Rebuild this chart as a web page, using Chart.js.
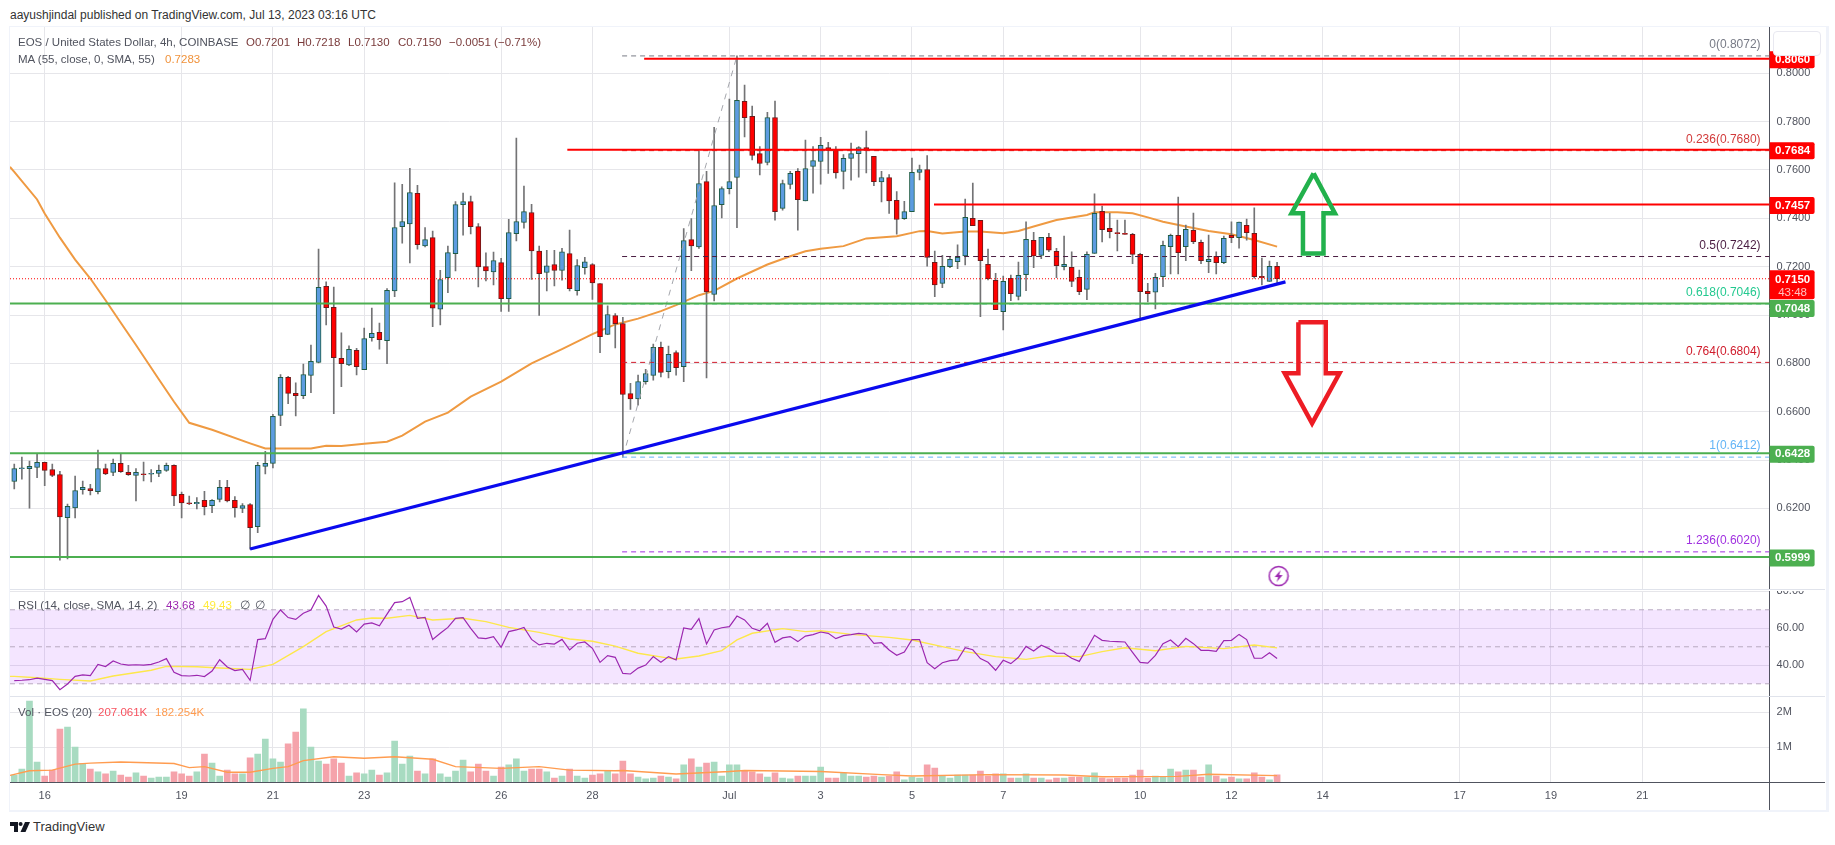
<!DOCTYPE html>
<html>
<head>
<meta charset="utf-8">
<title>EOS / United States Dollar</title>
<script src="https://cdn.jsdelivr.net/npm/chart.js@4/dist/chart.umd.min.js"></script>
<style>
    html, body { margin: 0; padding: 0; background: #fff; }
    body { width: 1835px; height: 845px; position: relative; overflow: hidden; font-family: "Liberation Sans", sans-serif; font-size: 11.5px; color: #50535e; }
    canvas { position: absolute; left: 10px; }
    .t { position: absolute; white-space: pre; line-height: 16px; z-index: 5; }
    .rule { position: absolute; z-index: 4; }
    #frame { position: absolute; left: 9px; top: 26px; width: 1816px; height: 783px; border: solid #f0f3fa; border-width: 1px 3px 2px 1px; }
    #corner { position: absolute; left: 1773px; top: 31px; width: 46px; height: 23px; background: #fff; border: 1px solid #e8e8f0; border-radius: 4px; z-index: 6; }
</style>
</head>
<body>
<div id="frame"></div>
<div class="t" style="left:10px;top:7px;color:#333;font-size:12px">aayushjindal published on TradingView.com, Jul 13, 2023 03:16 UTC</div>

<canvas id="priceChart" width="1815" height="562" style="top:27px"></canvas>
<canvas id="rsiChart" width="1815" height="105" style="top:591px"></canvas>
<canvas id="volChart" width="1815" height="113" style="top:697px"></canvas>

<div class="rule" style="left:10px;top:589px;width:1815px;height:1px;background:#e0e3eb"></div>
<div class="rule" style="left:10px;top:696px;width:1815px;height:1px;background:#e0e3eb"></div>
<div class="rule" style="left:1769px;top:782px;width:56px;height:1px;background:#50535e"></div>
<div class="rule" style="left:1769px;top:782px;width:1px;height:28px;background:#50535e"></div>
<div id="corner"></div>

<div class="t" style="left:18px;top:34px">EOS / United States Dollar, 4h, COINBASE</div>
<div class="t" style="left:246px;top:34px;color:#7a3b3b">O0.7201</div>
<div class="t" style="left:297px;top:34px;color:#7a3b3b">H0.7218</div>
<div class="t" style="left:348px;top:34px;color:#7a3b3b">L0.7130</div>
<div class="t" style="left:398px;top:34px;color:#7a3b3b">C0.7150</div>
<div class="t" style="left:449px;top:34px;color:#7a3b3b">−0.0051 (−0.71%)</div>
<div class="t" style="left:18px;top:51px">MA (55, close, 0, SMA, 55)</div>
<div class="t" style="left:165px;top:51px;color:#f0923b">0.7283</div>
<div class="t" style="left:18px;top:597px">RSI (14, close, SMA, 14, 2)</div>
<div class="t" style="left:166px;top:597px;color:#9c27b0">43.68</div>
<div class="t" style="left:203px;top:597px;color:#ffeb3b">49.43</div>
<div class="t" style="left:240px;top:597px">∅</div>
<div class="t" style="left:255px;top:597px">∅</div>
<div class="t" style="left:18px;top:704px">Vol · EOS (20)</div>
<div class="t" style="left:98px;top:704px;color:#f7525f">207.061K</div>
<div class="t" style="left:155px;top:704px;color:#ff9c50">182.254K</div>

<svg style="position:absolute;left:10px;top:822px" width="20" height="10" viewBox="0 0 20 10">
    <path d="M0 0H8V10H4V4H0Z" fill="#131722"/>
    <circle cx="10.6" cy="2" r="2" fill="#131722"/>
    <path d="M15 0H20L15.5 10H10.5Z" fill="#131722"/>
</svg>
<div class="t" style="left:33px;top:819px;color:#333;font-size:13px">TradingView</div>

<script>
// 4h candles, index 0 is the first bar on the left of the picture
const opens = [
    .6311,.6364,.6364,.6369,.6390,.6361,.6340,.6162,.6202,.6277,
    .6282,.6269,.6365,.6349,.6386,.6349,.6336,.6341,.6341,.6345,
    .6357,.6378,.6258,.6220,.6219,.6233,.6211,.6237,.6287,.6233,
    .6200,.6216,.6124,.6374,.6386,.6585,.6742,.6676,.6666,.6750,
    .6804,.7119,.7032,.6821,.6794,.6854,.6774,.6906,.6928,.6894,
    .7100,.7365,.7377,.7503,.7286,.7320,.7024,.7155,.7254,.7457,
    .7469,.7366,.7200,.7178,.7217,.7068,.7337,.7383,.7424,.7265,
    .7176,.7209,.7184,.7254,.7101,.7196,.7209,.7130,.6920,.6998,
    .6965,.6675,.6653,.6724,.6750,.6866,.6766,.6845,.6786,.7312,
    .7282,.7552,.7085,.7457,.7523,.7569,.7884,.7822,.7668,.7631,
    .7817,.7441,.7540,.7594,.7472,.7615,.7635,.7693,.7685,.7594,
    .7648,.7668,.7693,.7656,.7551,.7569,.7474,.7399,.7428,.7590,
    .7602,.7218,.7131,.7200,.7221,.7244,.7400,.7392,.7210,.7143,
    .7014,.7152,.7077,.7167,.7309,.7247,.7321,.7263,.7200,.7197,
    .7156,.7106,.7255,.7429,.7359,.7338,.7338,.7334,.7251,.7098,
    .7094,.7159,.7283,.7330,.7283,.7350,.7301,.7221,.7243,.7217,
    .7330,.7320,.7371,.7338,.7160,.7139,.7201
];
const closes = [
    .6365,.6367,.6374,.6390,.6357,.6336,.6165,.6208,.6274,.6287,
    .6273,.6365,.6343,.6386,.6352,.6339,.6349,.6339,.6345,.6357,
    .6378,.6252,.6223,.6219,.6225,.6207,.6233,.6287,.6231,.6203,
    .6212,.6120,.6378,.6386,.6581,.6742,.6676,.6666,.6754,.6808,
    .7115,.7030,.6823,.6799,.6858,.6786,.6902,.6924,.6898,.7102,
    .7362,.7387,.7507,.7291,.7312,.7028,.7147,.7258,.7457,.7469,
    .7365,.7199,.7182,.7225,.7068,.7341,.7387,.7428,.7265,.7171,
    .7203,.7184,.7261,.7109,.7204,.7220,.7133,.6910,.7002,.6964,
    .6671,.6653,.6725,.6758,.6866,.6762,.6837,.6782,.7308,.7286,
    .7544,.7096,.7453,.7523,.7552,.7888,.7816,.7660,.7627,.7817,
    .7428,.7544,.7586,.7477,.7606,.7639,.7702,.7681,.7588,.7648,
    .7668,.7693,.7681,.7552,.7569,.7472,.7395,.7428,.7590,.7602,
    .7238,.7125,.7201,.7230,.7239,.7404,.7370,.7225,.7150,.7022,
    .7139,.7088,.7164,.7313,.7244,.7321,.7268,.7204,.7210,.7139,
    .7097,.7251,.7421,.7353,.7345,.7337,.7333,.7251,.7097,.7088,
    .7156,.7288,.7330,.7258,.7355,.7303,.7225,.7230,.7217,.7317,
    .7320,.7384,.7341,.7159,.7154,.7201,.7150
];
const highs = [
    .6383,.6412,.6396,.6427,.6392,.6383,.6353,.6218,.6334,.6313,
    .6299,.6441,.6383,.6404,.6427,.6378,.6365,.6392,.6361,.6379,
    .6387,.6380,.6267,.6251,.6245,.6271,.6236,.6316,.6316,.6249,
    .6220,.6220,.6390,.6436,.6589,.6754,.6746,.6719,.6797,.6876,
    .7273,.7137,.7116,.6926,.6872,.6862,.6946,.7029,.6967,.7109,
    .7547,.7541,.7607,.7537,.7362,.7347,.7185,.7285,.7469,.7504,
    .7492,.7378,.7257,.7260,.7235,.7396,.7732,.7533,.7458,.7285,
    .7268,.7268,.7276,.7351,.7229,.7239,.7213,.7130,.7038,.7006,
    .6990,.6717,.6751,.6775,.6880,.6888,.6871,.6852,.7358,.7399,
    .7679,.7594,.7776,.7530,.7893,.8072,.7951,.7864,.7697,.7839,
    .7885,.7558,.7594,.7606,.7724,.7697,.7735,.7714,.7697,.7664,
    .7711,.7697,.7761,.7656,.7594,.7581,.7511,.7470,.7649,.7620,
    .7660,.7265,.7247,.7243,.7290,.7480,.7546,.7392,.7273,.7172,
    .7161,.7165,.7219,.7385,.7342,.7321,.7338,.7276,.7327,.7261,
    .7186,.7261,.7501,.7451,.7421,.7393,.7393,.7338,.7255,.7131,
    .7172,.7306,.7335,.7488,.7372,.7422,.7310,.7331,.7261,.7327,
    .7385,.7384,.7397,.7443,.7236,.7223,.7218
];
const lows = [
    .6280,.6321,.6201,.6327,.6294,.6331,.5986,.5991,.6160,.6259,
    .6256,.6260,.6339,.6335,.6349,.6336,.6231,.6314,.6309,.6331,
    .6353,.6211,.6161,.6215,.6198,.6173,.6182,.6227,.6227,.6164,
    .6182,.6031,.6099,.6343,.6367,.6542,.6633,.6583,.6654,.6679,
    .6802,.6959,.6592,.6703,.6790,.6752,.6774,.6892,.6859,.6799,
    .7076,.7297,.7216,.7272,.7282,.6952,.6959,.7092,.7182,.7330,
    .7336,.7116,.7141,.7124,.7015,.7015,.7307,.7359,.7147,.6998,
    .7100,.7120,.7144,.7100,.7082,.7169,.7064,.6844,.6919,.6864,
    .6412,.6609,.6627,.6714,.6730,.6744,.6740,.6751,.6724,.7183,
    .7275,.6740,.7058,.7402,.7501,.7361,.7737,.7642,.7580,.7621,
    .7392,.7434,.7522,.7351,.7472,.7504,.7541,.7586,.7566,.7522,
    .7558,.7570,.7588,.7535,.7468,.7420,.7334,.7395,.7428,.7559,
    .7202,.7076,.7113,.7196,.7192,.7207,.7370,.6993,.7145,.7022,
    .6938,.7059,.7062,.7101,.7196,.7233,.7262,.7154,.7187,.7117,
    .7084,.7063,.7255,.7302,.7319,.7265,.7333,.7212,.6986,.7054,
    .7025,.7117,.7170,.7170,.7225,.7295,.7212,.7175,.7170,.7212,
    .7299,.7277,.7310,.7152,.7124,.7139,.7130
];
// volume in millions
const volumes = [
    .20,.37,2.31,.57,.17,.34,1.51,1.57,1.00,.53,
    .37,.29,.23,.31,.20,.14,.26,.17,.11,.14,
    .14,.29,.23,.17,.29,.80,.54,.17,.34,.23,
    .23,.69,.80,1.23,.66,.57,1.09,1.43,2.09,1.00,
    .60,.51,.66,.54,.17,.26,.23,.34,.20,.26,
    1.17,.51,.74,.31,.23,.66,.23,.14,.31,.63,
    .29,.51,.31,.17,.43,.49,.66,.31,.37,.37,
    .29,.11,.17,.37,.17,.11,.20,.23,.31,.23,
    .60,.23,.14,.09,.11,.17,.14,.09,.49,.66,
    .43,.54,.57,.17,.49,.49,.31,.29,.23,.14,
    .26,.11,.09,.17,.17,.17,.43,.11,.11,.26,
    .17,.17,.14,.17,.14,.17,.29,.06,.14,.11,
    .49,.40,.17,.11,.20,.20,.20,.31,.17,.23,
    .23,.11,.11,.23,.11,.11,.06,.11,.11,.14,
    .14,.14,.26,.11,.09,.11,.11,.20,.34,.11,
    .17,.14,.37,.29,.34,.34,.14,.49,.17,.09,
    .14,.09,.09,.26,.14,.06,.207
];
const rsiValues = [
    31.7,31.9,32.2,33.1,32.4,31.7,26.8,29.9,34.0,34.8,
    34.4,40.5,39.3,42.3,40.7,40.1,40.3,40.1,40.5,41.8,
    43.6,36.2,34.4,34.2,34.6,33.9,36.9,43.0,39.1,37.1,
    37.8,31.9,53.9,54.4,64.8,69.9,65.8,64.8,68.1,69.9,
    77.8,72.0,60.7,59.6,61.6,58.0,62.3,62.9,61.4,67.7,
    73.9,74.4,76.7,65.4,65.9,54.0,57.3,60.5,65.4,65.8,
    60.0,54.8,54.4,55.5,49.7,58.2,59.1,60.5,54.0,51.0,
    51.9,51.5,54.0,48.3,51.9,52.6,49.2,41.6,45.2,44.3,
    35.6,35.3,38.5,40.1,44.7,41.6,44.7,42.9,60.2,59.4,
    65.2,51.5,59.1,60.3,60.9,66.6,64.5,60.0,58.7,62.7,
    52.4,54.8,55.5,52.8,55.8,56.6,58.0,57.3,54.4,56.0,
    56.6,57.3,56.8,51.9,52.2,48.3,45.4,47.2,53.9,53.9,
    41.4,38.2,41.4,42.5,42.9,49.5,48.4,43.6,41.6,37.3,
    42.7,40.9,44.3,50.2,47.7,50.8,49.0,46.5,46.5,43.8,
    42.1,49.0,56.2,53.5,53.0,52.8,52.6,47.0,41.6,41.2,
    45.4,51.7,53.7,50.1,54.6,51.7,48.1,48.1,47.5,53.3,
    53.5,56.7,53.9,43.8,43.8,46.8,43.7
];

// moving averages, read at a selection of bars
const maBars = [-0.56,0,3,4,6,8,10,12,14,16,19,21,23,26,31,33,39,41,43,46,49,51,54,57,60,64,68,72,76,79,82,85,87,90,92,95,99,102,104,106,109,112,116,119,120,122,125,127,130,132,134,137,141,142,145,147,149,151,154,157,160,163,166];
const maValues = [.7613,.7592,.7478,.7420,.7320,.7229,.7151,.7061,.6968,.6876,.6734,.6641,.6554,.6525,.6469,.6448,.6448,.6459,.6458,.6467,.6476,.6501,.6559,.6596,.6662,.6724,.6800,.6859,.6921,.6961,.6985,.7016,.7041,.7082,.7100,.7151,.7209,.7243,.7264,.7274,.7285,.7317,.7326,.7347,.7348,.7337,.7345,.7346,.7338,.7348,.7366,.7393,.7414,.7425,.7425,.7421,.7404,.7386,.7366,.7348,.7334,.7310,.7283];
const rsiMaBars = [-0.56,0,3,6,10,13,18,20,24,27,31,34,38,41,45,47,49,52,55,59,62,65,69,73,76,79,82,86,87,90,93,95,97,101,104,106,110,115,118,122,125,129,133,136,140,143,146,150,154,159,163,166];
const rsiMaValues = [34.0,34.0,33.3,32.4,31.5,34.2,37.3,39.4,39.2,38.5,37.8,40.5,50.1,58.2,64.5,65.6,65.4,67.0,64.5,65.4,63.6,60.5,57.8,54.2,53.0,50.4,46.5,43.9,43.4,45.0,47.9,53.7,57.3,59.8,58.2,58.7,56.7,55.1,53.7,50.1,47.4,44.7,43.2,45.0,44.7,47.4,49.5,47.9,50.2,49.0,51.0,49.4];
const volMaBars = [-0.56,2,5,8,10,14,21,23,25,28,31,34,36,38,42,46,50,55,58,64,69,73,79,80,87,94,96,106,114,118,128,138,143,153,157,166];
const volMaValues = [.19,.32,.34,.51,.54,.57,.53,.41,.44,.28,.28,.39,.44,.61,.72,.68,.72,.65,.44,.39,.44,.34,.32,.33,.23,.30,.33,.30,.21,.17,.21,.20,.15,.16,.22,.182];

// bottom axis
const dayBars = [4,22,34,46,64,76,94,106,118,130,148,160,172,190,202,214];
const dayLabels = ['16','19','21','23','26','28','Jul','3','5','7','10','12','14','17','19','21'];

// axis ticks
const priceTicks = [.80,.78,.76,.74,.72,.70,.68,.66,.64,.62,.60];
const rsiTicks = [40,60,80];
const volTicks = [1,2];

// fibonacci retracement
const fibRatios = ['0','0.236','0.5','0.618','0.764','1','1.236'];
const fibPrices = [.8072,.7680,.7242,.7046,.6804,.6412,.6020];
const fibColors = ['#787b86','#d23b3b','#4a1d42','#22c98f','#d01c2c','#64b5f6','#a030e0'];
const fibStartBar = 79.9;
const fibSwingBars = [80,95];
const fibSwingPrices = [.6412,.8072];

// drawn support and resistance lines
const redPrices = [.8060,.7684,.7457];
const redStartBars = [82.8,72.7,120.9];
const greenPrices = [.7048,.6428,.5999];
const trendBars = [31,167.1];
const trendPrices = [.6032,.7137];
const lastPrice = .7150;

// up and down arrows
const upArrowBars = [170.8,173.6,172.1,172.1,169.4,169.4,167.9,170.8];
const upArrowPrices = [.7586,.7421,.7421,.7255,.7255,.7421,.7421,.7586];
const downArrowBars = [168.8,172.4,172.4,174.2,170.6,167.0,168.8,168.8];
const downArrowPrices = [.6970,.6970,.6759,.6759,.6552,.6759,.6759,.6970];

// boxes on the price axis
const boxPrices = [.8060,.7684,.7457,.7150,.7048,.6428,.5999];
const boxColors = ['#ff0000','#ff0000','#ff0000','#ff0000','#4caf50','#4caf50','#4caf50'];

const FONT = '"Liberation Sans", sans-serif';
const xMin = -0.56;
const xMax = 230.74;
const GRID = '#e6e6ea';
const AXIS = '#50535e';

const candleIndex = opens.map((v, i) => i);
const isUp = candleIndex.map(i => closes[i] >= opens[i]);

function points(xs, ys) {
    return xs.map((x, i) => ({ x: x, y: ys[i] }));
}

function hLine(from, value, color, width, dash, order) {
    return {
        type: 'line',
        data: points([from, xMax], [value, value]),
        borderColor: color,
        borderWidth: width,
        borderDash: dash || [],
        pointRadius: 0,
        order: order
    };
}

function xScale(withLabels) {
    return {
        type: 'linear',
        min: xMin,
        max: xMax,
        offset: false,
        border: { display: withLabels, color: AXIS },
        grid: { color: GRID, drawTicks: false, offset: false },
        afterBuildTicks: function(scale) {
            scale.ticks = dayBars.map(v => ({ value: v }));
        },
        afterFit: function(scale) {
            scale.height = withLabels ? 28 : 0;
            scale.paddingLeft = 0;
            scale.paddingRight = 0;
        },
        ticks: {
            display: withLabels,
            autoSkip: false,
            maxRotation: 0,
            padding: 7,
            color: AXIS,
            font: { family: FONT, size: 11 },
            callback: function(value) {
                return dayLabels[dayBars.indexOf(value)];
            }
        }
    };
}

function yScale(min, max, tickValues, format) {
    return {
        type: 'linear',
        position: 'right',
        min: min,
        max: max,
        stacked: false,
        border: { display: true, color: AXIS },
        // tick marks are invisible, they just hold the labels off the axis
        grid: { color: GRID, drawTicks: true, tickLength: 7, tickColor: 'transparent' },
        afterBuildTicks: function(scale) {
            scale.ticks = tickValues.map(v => ({ value: v }));
        },
        afterFit: function(scale) {
            scale.width = 55.4;
        },
        ticks: {
            autoSkip: false,
            padding: 0,
            color: AXIS,
            // lineHeight 0 stops the labels from adding padding to the pane
            font: { family: FONT, size: 11, lineHeight: 0 },
            callback: format
        }
    };
}

function baseOptions(x, y) {
    return {
        responsive: false,
        animation: false,
        events: [],
        // autoPadding would shrink the pane to make room for thick lines
        layout: { padding: 0, autoPadding: false },
        scales: { x: x, y: y },
        plugins: { legend: { display: false }, tooltip: { enabled: false } }
    };
}

// fib labels over their lines and the coloured boxes on the price axis
const priceOverlay = {
    id: 'priceOverlay',
    afterDraw: function(chart) {
        const ctx = chart.ctx;
        const y = chart.scales.y;
        const axisX = chart.chartArea.right;

        ctx.save();
        ctx.font = '12px ' + FONT;
        ctx.textAlign = 'right';
        ctx.textBaseline = 'middle';
        fibRatios.forEach(function(ratio, i) {
            ctx.fillStyle = fibColors[i];
            ctx.fillText(ratio + '(' + fibPrices[i].toFixed(4) + ')', axisX - 9, y.getPixelForValue(fibPrices[i]) - 11);
        });

        ctx.textAlign = 'center';
        boxPrices.forEach(function(price, i) {
            // the 0.7048 box gets pushed down by the countdown above it
            const shift = price === .7048 ? 5 : 1;
            const mid = y.getPixelForValue(price) + shift;
            const tall = price === lastPrice ? 29 : 17;
            const top = price === lastPrice ? mid - 9.5 : mid - 8.5;
            ctx.fillStyle = boxColors[i];
            ctx.beginPath();
            ctx.roundRect(axisX, top, 45, tall, [0, 2, 2, 0]);
            ctx.fill();
            ctx.fillStyle = '#fff';
            ctx.font = 'bold 11.5px ' + FONT;
            ctx.fillText(price.toFixed(4), axisX + 23, mid);
            if (price === lastPrice) {
                ctx.fillStyle = '#ffc0c0';
                ctx.font = '11.5px ' + FONT;
                ctx.fillText('43:48', axisX + 23, mid + 13);
            }
        });
        ctx.restore();
    }
};

// icon for the purple marker under the last bars
function boltIcon() {
    const c = document.createElement('canvas');
    c.width = 22;
    c.height = 22;
    const g = c.getContext('2d');
    g.strokeStyle = '#9c27b0';
    g.fillStyle = '#9c27b0';
    g.lineWidth = 1.5;
    g.beginPath();
    g.arc(11, 11, 9.5, 0, Math.PI * 2);
    g.stroke();
    g.beginPath();
    g.moveTo(13, 5);
    g.lineTo(7, 12);
    g.lineTo(10.5, 12);
    g.lineTo(9, 17);
    g.lineTo(15, 10);
    g.lineTo(11.5, 10);
    g.closePath();
    g.fill();
    return c;
}

const priceDatasets = [
    {
        // up and down arrows go on top of everything
        type: 'line',
        data: points(upArrowBars, upArrowPrices),
        borderColor: '#22b14c',
        borderWidth: 4.5,
        borderJoinStyle: 'miter',
        pointRadius: 0,
        order: 1
    },
    {
        type: 'line',
        data: points(downArrowBars, downArrowPrices),
        borderColor: '#ed1c24',
        borderWidth: 4.5,
        borderJoinStyle: 'miter',
        pointRadius: 0,
        order: 1
    },
    {
        type: 'line',
        data: points([166.2], [.5920]),
        showLine: false,
        pointStyle: boltIcon(),
        order: 1
    },
    {
        type: 'line',
        data: points(trendBars, trendPrices),
        borderColor: '#0a0aee',
        borderWidth: 3.2,
        pointRadius: 0,
        order: 2
    },
    {
        type: 'line',
        data: points(fibSwingBars, fibSwingPrices),
        borderColor: '#a4a6ac',
        borderWidth: 1,
        borderDash: [6, 6],
        pointRadius: 0,
        order: 4
    },
    {
        // same stack name so wick and body sit on the same x
        label: 'body',
        type: 'bar',
        stack: 'candle',
        data: candleIndex.map(i => ({ x: i, y: [opens[i], closes[i]] })),
        backgroundColor: isUp.map(up => up ? '#5c9ce0' : '#ff0000'),
        borderColor: isUp.map(up => up ? '#1e5c44' : '#6e1a1a'),
        borderWidth: 1,
        borderSkipped: false,
        barThickness: 5,
        minBarLength: 1,
        order: 6
    },
    {
        label: 'wick',
        type: 'bar',
        stack: 'candle',
        data: candleIndex.map(i => ({ x: i, y: [lows[i], highs[i]] })),
        backgroundColor: '#737375',
        barThickness: 1,
        order: 7
    },
    {
        type: 'line',
        data: points(maBars, maValues),
        borderColor: '#ef9a42',
        borderWidth: 2,
        pointRadius: 0,
        order: 8
    }
];

redPrices.forEach(function(price, i) {
    priceDatasets.push(hLine(redStartBars[i], price, '#ff0000', 2, null, 3));
});
greenPrices.forEach(function(price) {
    priceDatasets.push(hLine(xMin, price, '#4caf50', 2, null, 3));
});
fibPrices.forEach(function(price, i) {
    priceDatasets.push(hLine(fibStartBar, price, fibColors[i], 1, [5, 4], 4));
});
priceDatasets.push(hLine(xMin, lastPrice, '#ff0000', 1, [1, 2], 5));

new Chart(document.getElementById('priceChart').getContext('2d'), {
    type: 'bar',
    data: { datasets: priceDatasets },
    options: baseOptions(
        xScale(false),
        yScale(.58664, .81916, priceTicks, v => v.toFixed(4))
    ),
    plugins: [priceOverlay]
});

const rsiBand = hLine(xMin, 70, '#b8a9c0', 1, [5, 4], 5);
rsiBand.fill = { value: 30 };
rsiBand.backgroundColor = 'rgba(145, 0, 255, 0.1)';

new Chart(document.getElementById('rsiChart').getContext('2d'), {
    type: 'line',
    data: {
        datasets: [
            {
                data: points(candleIndex, rsiValues),
                borderColor: '#9c27b0',
                borderWidth: 1.2,
                pointRadius: 0,
                order: 1
            },
            {
                data: points(rsiMaBars, rsiMaValues),
                borderColor: '#fde74c',
                borderWidth: 1.4,
                pointRadius: 0,
                order: 2
            },
            hLine(xMin, 50, '#b8a9c0', 1, [5, 4], 4),
            hLine(xMin, 30, '#b8a9c0', 1, [5, 4], 4),
            rsiBand
        ]
    },
    options: baseOptions(
        xScale(false),
        yScale(23.4, 80.16, rsiTicks, v => v.toFixed(2))
    )
});

new Chart(document.getElementById('volChart').getContext('2d'), {
    type: 'bar',
    data: {
        datasets: [
            {
                type: 'line',
                data: points(volMaBars, volMaValues),
                borderColor: '#ff9c50',
                borderWidth: 1.4,
                pointRadius: 0,
                order: 1
            },
            {
                type: 'bar',
                data: candleIndex.map(i => ({ x: i, y: volumes[i] })),
                backgroundColor: isUp.map(up => up ? '#a8dbc1' : '#f5a3ab'),
                barThickness: 6,
                order: 2
            }
        ]
    },
    options: baseOptions(
        xScale(true),
        yScale(0, 2.43, volTicks, v => v + 'M')
    )
});
</script>
</body>
</html>
